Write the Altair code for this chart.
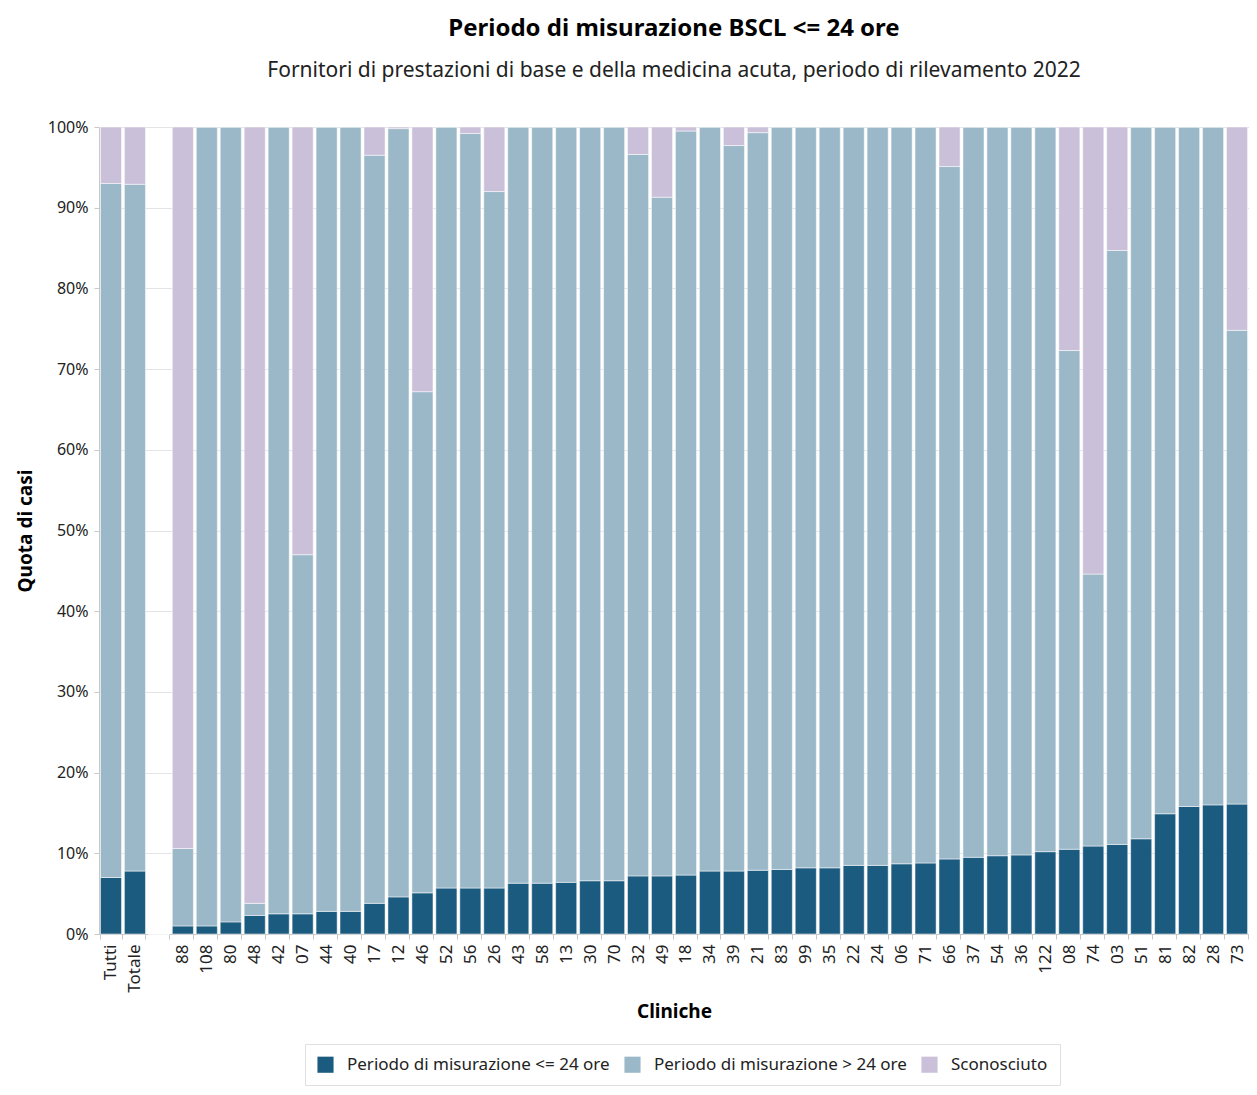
import altair as alt
import pandas as pd

categories = ["Tutti", "Totale", " ", "88", "108", "80", "48", "42", "07", "44", "40", "17", "12", "46",
              "52", "56", "26", "43", "58", "13", "30", "70", "32", "49", "18", "34", "39", "21", "83",
              "99", "35", "22", "24", "06", "71", "66", "37", "54", "36", "122", "08", "74", "03", "51",
              "81", "82", "28", "73"]

# share of cases, measurement period <= 24 h (%)
le24 = [7.0, 7.8, 0, 1.0, 1.0, 1.5, 2.3, 2.5, 2.5, 2.8, 2.8, 3.8, 4.6, 5.1,
        5.7, 5.7, 5.7, 6.3, 6.3, 6.4, 6.6, 6.6, 7.2, 7.2, 7.3, 7.8, 7.8, 7.9, 8.0,
        8.2, 8.2, 8.5, 8.5, 8.7, 8.8, 9.3, 9.5, 9.7, 9.8, 10.2, 10.5, 10.9, 11.1, 11.8,
        14.9, 15.8, 16.0, 16.1]

# cumulative top of the "> 24 h" segment (%)
known_total = [93.0, 92.9, 0, 10.6, 100, 100, 3.8, 100, 47.0, 100, 100, 96.5, 99.8, 67.2,
               100, 99.2, 92.0, 100, 100, 100, 100, 100, 96.6, 91.3, 99.5, 100, 97.7, 99.3, 100,
               100, 100, 100, 100, 100, 100, 95.1, 100, 100, 100, 100, 72.3, 44.6, 84.7, 100,
               100, 100, 100, 74.8]

series = ["Periodo di misurazione <= 24 ore", "Periodo di misurazione > 24 ore", "Sconosciuto"]
colors = ["#1b5b7f", "#9bb8c9", "#cbc0da"]

rows = []
for c, a, t in zip(categories, le24, known_total):
    if c.strip() == "":
        vals = [0, 0, 0]
    else:
        vals = [a, t - a, 100 - t]
    for i, (s, v) in enumerate(zip(series, vals)):
        rows.append({"Clinica": c, "Serie": s, "ord": i, "val": v / 100})
df = pd.DataFrame(rows)

FONT = "Noto Sans"

chart = alt.Chart(df).mark_bar(stroke="white", strokeWidth=0.5).encode(
    x=alt.X("Clinica:N", sort=categories, title="Cliniche",
            scale=alt.Scale(paddingInner=0.12, paddingOuter=0.06),
            axis=alt.Axis(labelAngle=-90, tickBand="extent", labelFontSize=17,
                          titleFontSize=19, titleFontWeight="bold", titlePadding=10,
                          labelColor="#222", titleColor="#000", domainColor="#c8c8c8",
                          tickColor="#c8c8c8", labelPadding=5)),
    y=alt.Y("val:Q", stack="zero", title="Quota di casi",
            scale=alt.Scale(domain=[0, 1]),
            axis=alt.Axis(format=".0%", values=[i / 10 for i in range(11)], labelFontSize=16,
                          titleFontSize=19, titleFontWeight="bold", labelColor="#222",
                          titleColor="#000", gridColor="#e4e4e4", domainColor="#c8c8c8",
                          tickColor="#c8c8c8", titlePadding=12, labelPadding=6)),
    color=alt.Color("Serie:N", scale=alt.Scale(domain=series, range=colors),
                    legend=alt.Legend(title=None, orient="none", direction="horizontal",
                                      legendX=206, legendY=917, symbolType="square",
                                      symbolSize=260, symbolStrokeWidth=0, labelFontSize=17,
                                      labelLimit=0, labelColor="#222", strokeColor="#e0e0e0",
                                      padding=12, columnPadding=14, symbolOpacity=1,
                                      labelOffset=13)),
    order=alt.Order("ord:Q", sort="ascending"),
).properties(
    width=1150, height=807,
    padding={"left": 8, "top": 9, "right": 0, "bottom": 0},
    title=alt.TitleParams("Periodo di misurazione BSCL <= 24 ore",
                          subtitle="Fornitori di prestazioni di base e della medicina acuta, periodo di rilevamento 2022",
                          fontSize=24, fontWeight="bold", subtitleFontSize=21, anchor="middle",
                          subtitlePadding=19, offset=38, color="#000", subtitleColor="#222"),
).configure(font=FONT).configure_view(stroke=None)

chart.save("out.html", embed_options={"renderer": "svg", "actions": False})
